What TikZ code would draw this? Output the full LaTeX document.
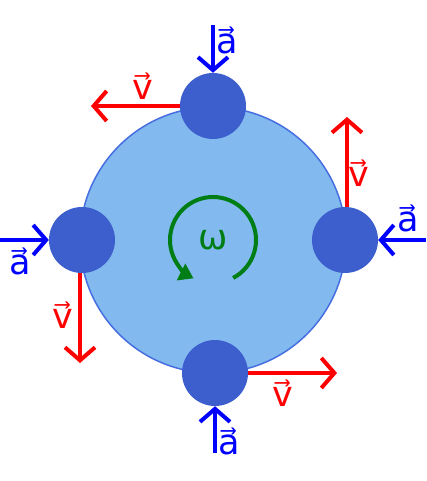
\documentclass[tikz,border=0pt]{standalone}
\usepackage{fontspec}
\setmainfont{DejaVu Sans}
\usetikzlibrary{arrows.meta}
\definecolor{disccol}{RGB}{130,186,240}
\definecolor{rimcol}{RGB}{70,110,225}
\definecolor{ballcol}{RGB}{60,95,205}
\definecolor{spincol}{RGB}{0,125,20}
\tikzset{
  ball/.style={circle, fill=ballcol, minimum size=66pt, inner sep=0pt},
  vel/.style={red, line width=4pt, -{Straight Barb[length=13pt,width=30pt]}},
  acc/.style={blue, line width=4pt, -{Straight Barb[length=13pt,width=30pt]}},
  lbl/.style={font=\fontsize{35}{35}\selectfont, inner sep=0pt}
}
\begin{document}
\begin{tikzpicture}[x=1pt,y=1pt]
                \useasboundingbox (0,0) rectangle (426,481);
                \node[circle, draw=rimcol, line width=1.5pt, fill=disccol, minimum size=266pt](wheel) at (213,241){};
                \node[ball](topball) at (213,375){};
                \node[ball](bottomball) at (215,108){};
                \node[ball](leftball) at (82,241){};
                \node[ball](rightball) at (345,241){};
                \coordinate (atop) at (213,456);
                \coordinate (vtop) at (91,375);
                \coordinate (aright) at (426,241);
                \coordinate (vright) at (347,364);
                \coordinate (aleft) at (0,241);
                \coordinate (vleft) at (80,118);
                \coordinate (abottom) at (215,28);
                \coordinate (vbottom) at (337,108);
                \draw[acc] (atop) -- (topball.north);
                \draw[vel] (topball.west) -- (vtop);
                \draw[acc] (aright) -- (rightball.east);
                \draw[vel] (rightball.north) ++(2,0) -- (vright);
                \draw[acc] (aleft) -- (leftball.west);
                \draw[vel] (leftball.south) ++(-2,0) -- (vleft);
                \draw[acc] (abottom) -- (bottomball.south);
                \draw[vel] (bottomball.east) -- (vbottom);
                \node[lbl, blue](atoplbl) at (227,441){a⃗};
                \node[lbl, red](vtoplbl) at (143,395){v⃗};
                \node[lbl, red](vrightlbl) at (359,308){v⃗};
                \node[lbl, blue](arightlbl) at (408,263){a⃗};
                \node[lbl, blue](aleftlbl) at (20,220){a⃗};
                \node[lbl, red](vleftlbl) at (63,166){v⃗};
                \node[lbl, red](vbottomlbl) at (283,88){v⃗};
                \node[lbl, blue](abottomlbl) at (229,40){a⃗};
                \draw[spincol, line width=4pt, -{Triangle[length=14pt,width=18pt]}] (wheel.center) ++(-62:43) arc[start angle=-62, end angle=243, radius=43];
                \node[lbl, spincol](omega) at (213,241){ω};
                \end{tikzpicture}
\end{document}
